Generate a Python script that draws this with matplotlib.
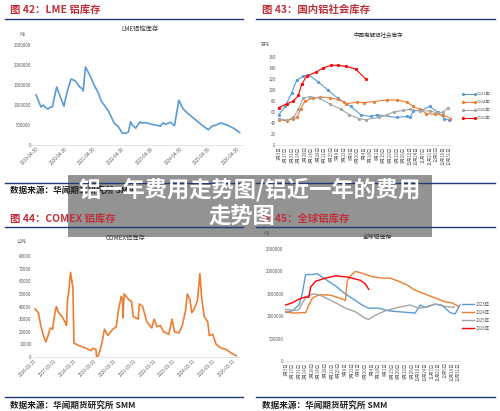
import numpy as np
import matplotlib.pyplot as plt
from matplotlib.patches import Rectangle
from matplotlib.lines import Line2D
from matplotlib.ticker import FuncFormatter

plt.rcParams['font.family'] = ['Noto Sans CJK SC', 'DejaVu Sans']

# ---- 图42 LME 铝库存 (年份小数, 吨)
lme_t = [2019.33, 2019.42, 2019.5, 2019.58, 2019.67, 2019.75, 2019.83, 2019.9, 2019.97, 2020.05, 2020.15,
         2020.3, 2020.42, 2020.55, 2020.7, 2020.85, 2020.95, 2020.97, 2021.05, 2021.2, 2021.35, 2021.5,
         2021.6, 2021.75, 2021.85, 2021.95, 2022.05, 2022.2, 2022.33, 2022.45, 2022.55, 2022.62, 2022.68,
         2022.8, 2022.95, 2023.0, 2023.15, 2023.33, 2023.5, 2023.65, 2023.75, 2023.85, 2024.0, 2024.15,
         2024.3, 2024.38, 2024.45, 2024.6, 2024.85, 2025.1, 2025.33, 2025.45, 2025.6, 2025.75, 2025.9,
         2026.05, 2026.2, 2026.35, 2026.42]
lme_v = [1250000, 1100000, 950000, 1000000, 930000, 900000, 950000, 950000, 1200000, 1450000, 1250000,
         970000, 1350000, 1650000, 1600000, 1450000, 1400000, 1350000, 1950000, 1750000, 1500000, 1300000,
         1100000, 950000, 850000, 700000, 550000, 450000, 300000, 290000, 330000, 580000, 500000,
         420000, 580000, 550000, 560000, 520000, 500000, 470000, 550000, 520000, 570000, 480000,
         1120000, 1000000, 900000, 800000, 650000, 500000, 380000, 470000, 500000, 550000, 520000,
         480000, 420000, 350000, 310000]
lme_ticks = ['2019-04-30', '2020-04-30', '2021-04-30', '2022-04-30', '2023-04-30',
             '2024-04-30', '2025-04-30', '2026-04-30']

# ---- 图43 国内铝社会库存 (周序号, 万吨)
s23_w = [0, 2, 4, 5.5, 7.5, 9, 12, 15, 18, 22, 25, 28, 30, 36, 39, 40, 41, 43.5, 46, 48.5, 50.5, 52]
s23_v = [55, 70, 95, 118, 125, 128, 115, 100, 85, 70, 55, 52, 55, 50, 52, 50, 62, 63, 70, 60, 48, 45]
s24_w = [0, 2.5, 4.5, 5.5, 6.7, 8, 10.5, 12.5, 15.5, 18, 20, 20.5, 24, 26, 29, 33, 36, 39, 41, 43, 45, 47.5, 50, 52.5]
s24_v = [46, 44, 48, 50, 65, 80, 85, 87, 86, 83, 78, 75, 78, 77, 79, 82, 82, 78, 70, 65, 57, 56, 55, 48]
s25_w = [0, 2.5, 4.5, 6, 7.5, 9.5, 12.5, 15.5, 19, 21.5, 24.5, 26.5, 30.5, 33, 35, 38, 40, 43, 46, 48.5, 50, 51.5]
s25_v = [48, 45, 50, 65, 85, 88, 85, 75, 65, 55, 48, 46, 50, 55, 60, 63, 65, 62, 62, 58, 60, 67]
s26_w = [0, 2.5, 4.5, 6, 7, 8.5, 11.5, 13.5, 16, 18, 20.5, 23.5, 26.5]
s26_v = [68, 75, 80, 90, 110, 125, 133, 140, 145, 145, 143, 138, 120]
week_labels = ['1月3日', '1月10日', '1月17日', '1月24日', '1月31日', '2月7日', '2月14日', '2月21日',
               '2月28日', '3月7日', '3月14日', '3月21日', '3月28日', '4月4日', '4月11日', '4月18日',
               '4月25日', '5月2日', '5月9日', '5月16日', '5月23日', '5月30日', '6月6日', '6月13日',
               '6月20日', '6月27日', '7月4日', '7月11日', '7月18日', '7月25日', '8月1日', '8月8日',
               '8月15日', '8月22日', '8月29日', '9月5日', '9月12日', '9月19日', '9月26日', '10月3日',
               '10月10日', '10月17日', '10月24日', '10月31日', '11月7日', '11月14日', '11月21日',
               '11月28日', '12月5日', '12月12日', '12月19日', '12月26日', '12月31日']

# ---- 图44 COMEX 铝库存 (年份小数, 公吨)
cx_x = [110, 120, 127, 135, 142, 150, 155, 162, 167, 173, 180, 190, 200, 203, 206, 210, 215, 222, 225,
        240, 260, 275, 280, 290, 292, 297, 302, 310, 315, 325, 340, 350, 357, 365, 368, 370, 373, 385,
        395, 400, 415, 418, 428, 440, 455, 462, 470, 480, 490, 505, 515, 522, 535, 545, 555, 560, 568,
        573, 580, 590, 597, 603, 610, 620, 625, 635, 645, 660, 675, 690, 705]
cx_v = [38000, 35000, 25000, 17000, 12000, 18000, 23000, 22000, 32000, 40000, 35000, 32000, 27000,
        25000, 45000, 52000, 67000, 55000, 11000, 9000, 7000, 5000, 7000, 6000, 0, 1000, 5000, 14000,
        22000, 17000, 22000, 24000, 38000, 48000, 46000, 31000, 50000, 46000, 44000, 32000, 30000,
        42000, 40000, 28000, 23000, 30000, 24000, 25000, 20000, 18000, 30000, 20000, 19000, 25000,
        37000, 50000, 45000, 35000, 38000, 45000, 66000, 45000, 32000, 28000, 17000, 18000, 10000,
        7000, 6000, 3000, 1000]
cx_t = [2016.25 + (x - 107) / 58.8 for x in cx_x]
cx_ticks = ['2016-03-31', '2017-03-31', '2018-03-31', '2019-03-31', '2020-03-31', '2021-03-31',
            '2022-03-31', '2023-03-31', '2024-03-31', '2025-03-31', '2026-03-31']

# ---- 图45 全球铝库存 (周序号, 吨)
g23_w = [0, 2, 4, 5, 6, 8, 9.5, 11.5, 13.5, 15.5, 17, 19, 21, 23, 25, 28, 31, 34, 39, 40.5, 42, 45, 47, 49.5, 51, 52.5]
g23_v = [1080000, 1120000, 1250000, 1500000, 1930000, 1930000, 1950000, 1850000, 1750000, 1650000,
         1550000, 1450000, 1350000, 1250000, 1180000, 1180000, 1120000, 1100000, 1070000, 1250000,
         1200000, 1270000, 1250000, 1080000, 1050000, 1250000]
g24_w = [0, 2, 6, 7, 8, 10, 13.5, 16.5, 18, 18.5, 19.5, 21, 23.5, 26, 29, 31.5, 34, 36.5, 38.5, 40, 43.5, 46, 48, 50, 52]
g24_v = [1100000, 1070000, 1080000, 1250000, 1400000, 1480000, 1470000, 1400000, 1350000, 1780000,
         1900000, 2000000, 1950000, 1880000, 1850000, 1850000, 1780000, 1700000, 1600000, 1550000,
         1450000, 1380000, 1320000, 1300000, 1220000]
g25_w = [0, 3, 4, 5, 6.5, 8.5, 11, 15, 18, 21, 24, 25, 27, 30, 34, 37.5, 40, 42.5, 45, 47.8, 50.8]
g25_v = [1150000, 1130000, 1150000, 1300000, 1450000, 1500000, 1450000, 1300000, 1180000, 1100000,
         950000, 930000, 1020000, 1120000, 1200000, 1250000, 1180000, 1200000, 1270000, 1220000, 1200000]
g26_w = [0, 2, 4, 6, 7, 7.5, 9, 12, 15, 18, 20, 22.5, 24, 25]
g26_v = [1250000, 1300000, 1380000, 1430000, 1420000, 1650000, 1780000, 1850000, 1900000, 1880000,
         1850000, 1800000, 1720000, 1600000]

year_names = ['2023年', '2024年', '2025年', '2026年']
c_blue, c_orange, c_grey, c_red = '#5b9bd5', '#ed7d31', '#a5a5a5', '#ff0000'

W, H = 500, 411
fig = plt.figure(figsize=(5, 4.11), dpi=100)
fig.patch.set_facecolor('white')
plain = FuncFormatter(lambda v, p: f'{int(v)}')


def px(l, t, r, b):
    return [l / W, 1 - b / H, (r - l) / W, (b - t) / H]


def style(ax):
    for s in ['top', 'right', 'left']:
        ax.spines[s].set_visible(False)
    ax.spines['bottom'].set_color('#d9d9d9')
    ax.spines['bottom'].set_linewidth(0.5)
    ax.tick_params(length=0, labelsize=3.2, colors='#595959', pad=1)
    ax.yaxis.set_major_formatter(plain)


def header(x, y, text):
    fig.text(x / W, 1 - y / H, text, color='#c0303a', fontsize=7.5, va='center', fontweight='bold')


def rule(x0, x1, y):
    fig.add_artist(Line2D([x0 / W, x1 / W], [1 - y / H, 1 - y / H], color='#1f3a7a', lw=1.0))


def source(x, y):
    fig.text(x / W, 1 - y / H, '数据来源：华闻期货研究所 SMM', color='#222222', fontsize=6.2,
             va='center', fontweight='bold')


# Panel 42
header(10, 10, '图 42：LME 铝库存')
rule(5, 243, 19)
ax1 = fig.add_axes(px(32.3, 45, 242, 145))
ax1.plot(lme_t, lme_v, color=c_blue, lw=1.2)
ax1.set_xlim(2019.2, 2026.5)
ax1.set_ylim(0, 2500000)
ax1.set_yticks(range(0, 2500001, 500000))
ax1.set_xticks([2019.33 + i for i in range(len(lme_ticks))])
ax1.set_xticklabels(lme_ticks, rotation=45, ha='right', rotation_mode='anchor')
style(ax1)
fig.text(140 / W, 1 - 29 / H, 'LME铝锭库存', fontsize=4.5, ha='center', va='center', color='#333333')
fig.text(22 / W, 1 - 34 / H, '吨', fontsize=3.5, ha='center', va='center', color='#595959')
rule(5, 243, 183)
source(10, 190)

# Panel 43
header(262, 10, '图 43：国内铝社会库存')
rule(256, 495, 19)
ax2 = fig.add_axes(px(277, 57, 451, 145))
for w, v, c in [(s23_w, s23_v, c_blue), (s24_w, s24_v, c_orange), (s25_w, s25_v, c_grey), (s26_w, s26_v, c_red)]:
    ax2.plot(w, v, color=c, lw=0.8, marker='o', ms=1.3)
ax2.set_xlim(-0.5, 52.5)
ax2.set_ylim(0, 160)
ax2.set_yticks(range(0, 161, 20))
ax2.set_xticks(range(0, 53, 2))
ax2.set_xticklabels(week_labels[::2], rotation=90, fontsize=2.5)
style(ax2)
fig.text(378 / W, 1 - 34 / H, '中国电解铝社会库存', fontsize=4, ha='center', va='center', color='#333333')
fig.text(265 / W, 1 - 44 / H, '万吨', fontsize=3.2, ha='center', va='center', color='#595959')
for i, (n, c) in enumerate(zip(year_names, [c_blue, c_orange, c_grey, c_red])):
    y = 1 - (94 + i * 8) / H
    fig.add_artist(Line2D([463 / W, 475 / W], [y, y], color=c, lw=0.8, marker='o', ms=1.3))
    fig.text(477 / W, y, n, fontsize=3, va='center', color='#595959')
rule(256, 495, 183)

# Panel 44
header(10, 219, '图 44：COMEX 铝库存')
rule(5, 243, 227)
ax3 = fig.add_axes(px(33, 256, 240, 357))
ax3.plot(cx_t, cx_v, color=c_orange, lw=1.2)
ax3.set_xlim(2016.2, 2026.6)
ax3.set_ylim(0, 80000)
ax3.set_yticks(range(0, 80001, 10000))
ax3.set_xticks([2016.25 + i for i in range(len(cx_ticks))])
ax3.set_xticklabels(cx_ticks, rotation=45, ha='right', rotation_mode='anchor')
style(ax3)
fig.text(125 / W, 1 - 238 / H, 'COMEX铝库存', fontsize=4.5, ha='center', va='center', color='#333333')
fig.text(22 / W, 1 - 241 / H, '公吨', fontsize=3.5, ha='center', va='center', color='#595959')
rule(5, 243, 397)
source(10, 405)

# Panel 45
header(262, 219, '图 45：全球铝库存')
rule(256, 495, 227)
ax4 = fig.add_axes(px(285, 249, 461, 361))
for w, v, c in [(g23_w, g23_v, c_blue), (g24_w, g24_v, c_orange), (g25_w, g25_v, c_grey), (g26_w, g26_v, c_red)]:
    ax4.plot(w, v, color=c, lw=1.0)
ax4.set_xlim(-0.2, 52.8)
ax4.set_ylim(0, 2500000)
ax4.set_yticks(range(0, 2500001, 500000))
ax4.set_xticks(range(0, 53, 2))
ax4.set_xticklabels(week_labels[::2], rotation=90, fontsize=2.5)
style(ax4)
fig.text(378 / W, 1 - 237 / H, '全球铝库存', fontsize=4.2, ha='center', va='center', color='#333333')
fig.text(266 / W, 1 - 233 / H, '吨', fontsize=3.5, ha='center', va='center', color='#595959')
for i, (n, c) in enumerate(zip(year_names, [c_blue, c_orange, c_grey, c_red])):
    y = 1 - (304 + i * 8) / H
    fig.add_artist(Line2D([462 / W, 474 / W], [y, y], color=c, lw=1.0))
    fig.text(476 / W, y, n, fontsize=3.2, va='center', color='#595959')
rule(256, 495, 397)
source(262, 405)

# 标题遮罩
fig.add_artist(Rectangle((68 / W, 1 - 237 / H), 364 / W, 62 / H, transform=fig.transFigure,
                         facecolor='#8a8a8a', edgecolor='none', alpha=0.92))
fig.text(250 / W, 1 - 190 / H, '铝一年费用走势图/铝近一年的费用', color='white', fontsize=16,
         fontweight='bold', ha='center', va='center')
fig.text(242 / W, 1 - 217 / H, '走势图', color='white', fontsize=16,
         fontweight='bold', ha='center', va='center')

fig.savefig('out.png', dpi=100)
